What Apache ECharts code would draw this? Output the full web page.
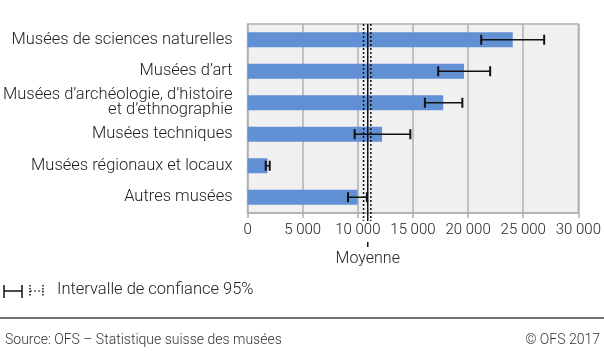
<!DOCTYPE html>
<html>
<head>
<meta charset="utf-8">
<script src="https://cdn.jsdelivr.net/npm/echarts@6/dist/echarts.min.js"></script>
<style>
  html, body { margin: 0; padding: 0; background: #fff; }
  #chart { width: 604px; height: 351px; }
</style>
</head>
<body>
<div id="chart"></div>
<script>
var categories = [
    'Musées de sciences naturelles',
    'Musées d’art',
    'Musées d’archéologie, d’histoire\net d’ethnographie',
    'Musées techniques',
    'Musées régionaux et locaux',
    'Autres musées'
];
var values = [24050, 19630, 17740, 12200, 1800, 9980];
var ciLow = [21190, 17290, 16080, 9710, 1650, 9110];
var ciHigh = [26900, 22000, 19480, 14760, 2010, 10820];
var meanValue = 10900;
var meanLow = 10520;
var meanHigh = 11180;
var xTicks = [0, 5000, 10000, 15000, 20000, 25000, 30000];

var FONT = 'Roboto, "Liberation Sans", sans-serif';
var TXT = '#222';

function fmt(v) {
    return String(v).replace(/\B(?=(\d{3})+(?!\d))/g, ' ');
}

var errData = values.map(function (v, i) {
    return [ciLow[i], ciHigh[i], i];
});

var chart = echarts.init(document.getElementById('chart'));
chart.setOption({
    animation: false,
    textStyle: { fontFamily: FONT },
    grid: {
        left: 247, right: 25, top: 24, bottom: 138,
        show: true, backgroundColor: '#f0f0f0',
        borderColor: '#b0b0b0', borderWidth: 1.5
    },
    xAxis: {
        type: 'value',
        min: xTicks[0], max: xTicks[xTicks.length - 1], interval: 5000,
        axisLine: { show: true, lineStyle: { color: '#b0b0b0', width: 1.5 } },
        axisTick: { show: true, length: 5, lineStyle: { color: '#b0b0b0', width: 1.5 } },
        splitLine: { show: true, lineStyle: { color: '#b0b0b0', width: 1.5 } },
        axisLabel: { color: TXT, fontSize: 15, fontWeight: 300, fontFamily: FONT, margin: 10, formatter: fmt }
    },
    yAxis: {
        type: 'category',
        inverse: true,
        data: categories,
        axisLine: { show: false },
        axisTick: { show: false },
        axisLabel: {
            color: TXT, fontSize: 16.5, fontWeight: 300, fontFamily: FONT, margin: 15, lineHeight: 15
        }
    },
    series: [
        {
            type: 'bar',
            data: values,
            barWidth: 15,
            itemStyle: { color: '#6191d4' },
            z: 2
        },
        {
            type: 'custom',
            data: errData,
            encode: { x: [0, 1], y: 2 },
            z: 3,
            renderItem: function (params, api) {
                var idx = api.value(2);
                var lo = api.coord([api.value(0), idx]);
                var hi = api.coord([api.value(1), idx]);
                var h = 5;
                var st = { stroke: '#111', lineWidth: 1.5 };
                return {
                    type: 'group',
                    children: [
                        { type: 'line', shape: { x1: lo[0], y1: lo[1], x2: hi[0], y2: hi[1] }, style: st },
                        { type: 'line', shape: { x1: lo[0], y1: lo[1] - h, x2: lo[0], y2: lo[1] + h }, style: { stroke: '#111', lineWidth: 2 } },
                        { type: 'line', shape: { x1: hi[0], y1: hi[1] - h, x2: hi[0], y2: hi[1] + h }, style: { stroke: '#111', lineWidth: 2 } }
                    ]
                };
            }
        },
        {
            type: 'custom',
            data: [[meanValue, meanLow, meanHigh, 0]],
            encode: { x: [0, 1, 2], y: 3 },
            clip: false,
            z: 4,
            renderItem: function (params, api) {
                var cs = params.coordSys;
                var top = cs.y;
                var bottom = cs.y + cs.height + 8;
                var xm = api.coord([api.value(0), 0])[0];
                var xl = api.coord([api.value(1), 0])[0];
                var xh = api.coord([api.value(2), 0])[0];
                var dot = { stroke: '#111', lineWidth: 1.5, lineDash: [2, 2] };
                return {
                    type: 'group',
                    children: [
                        { type: 'line', shape: { x1: xl, y1: top, x2: xl, y2: bottom }, style: dot },
                        { type: 'line', shape: { x1: xh, y1: top, x2: xh, y2: bottom }, style: dot },
                        { type: 'line', shape: { x1: xm, y1: top, x2: xm, y2: bottom }, style: { stroke: '#111', lineWidth: 1.5 } },
                        { type: 'line', shape: { x1: xm, y1: bottom + 21, x2: xm, y2: bottom + 26 }, style: { stroke: '#111', lineWidth: 1.5 } },
                        {
                            type: 'text',
                            style: {
                                x: xm, y: bottom + 38, text: 'Moyenne',
                                fill: TXT, font: '300 16px ' + FONT,
                                textAlign: 'center', textVerticalAlign: 'middle'
                            }
                        }
                    ]
                };
            }
        }
    ],
    graphic: [
        // legend symbol: solid error bar
        { type: 'line', shape: { x1: 4, y1: 291, x2: 22, y2: 291 }, style: { stroke: '#111', lineWidth: 1.5 } },
        { type: 'line', shape: { x1: 4, y1: 285, x2: 4, y2: 298 }, style: { stroke: '#111', lineWidth: 1.5 } },
        { type: 'line', shape: { x1: 22, y1: 285, x2: 22, y2: 298 }, style: { stroke: '#111', lineWidth: 1.5 } },
        // legend symbol: dotted interval
        { type: 'line', shape: { x1: 30, y1: 291, x2: 43, y2: 291 }, style: { stroke: '#111', lineWidth: 1, lineDash: [2, 2] } },
        { type: 'line', shape: { x1: 30, y1: 285, x2: 30, y2: 297 }, style: { stroke: '#111', lineWidth: 1.5, lineDash: [1.5, 1.5] } },
        { type: 'line', shape: { x1: 43, y1: 285, x2: 43, y2: 297 }, style: { stroke: '#111', lineWidth: 1.5, lineDash: [1.5, 1.5] } },
        {
            type: 'text', left: 57, top: 281,
            style: { text: 'Intervalle de confiance 95%', fill: TXT, font: '300 16.5px ' + FONT }
        },
        { type: 'line', shape: { x1: 0, y1: 318, x2: 604, y2: 318 }, style: { stroke: '#444', lineWidth: 1.5 } },
        {
            type: 'text', left: 5, top: 333,
            style: { text: 'Source: OFS – Statistique suisse des musées', fill: '#333', font: '300 14px ' + FONT }
        },
        {
            type: 'text', right: 4, top: 333,
            style: { text: '© OFS 2017', fill: '#333', font: '300 14px ' + FONT }
        }
    ]
});
</script>
</body>
</html>
